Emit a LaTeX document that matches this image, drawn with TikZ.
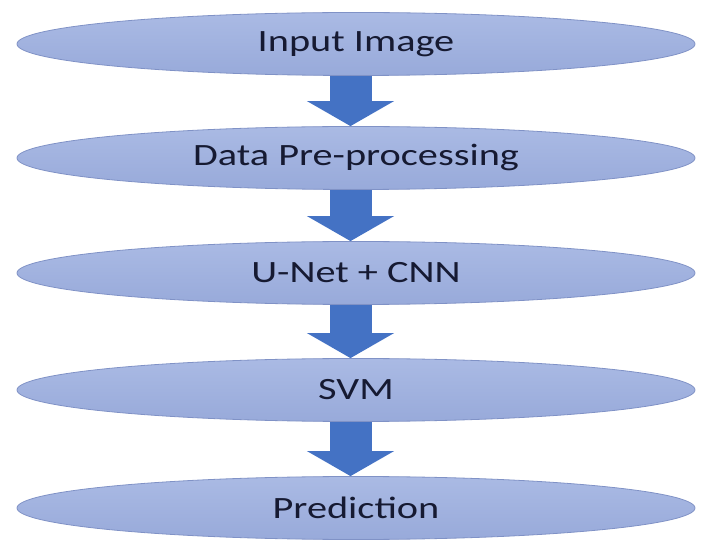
\documentclass[tikz,border=0pt]{standalone}
\usepackage{fontspec}
\setmainfont{Carlito}
\usetikzlibrary{shapes.geometric,arrows.meta}
\definecolor{elltop}{RGB}{170,186,228}
\definecolor{ellbot}{RGB}{152,170,218}
\definecolor{elldraw}{RGB}{128,146,198}
\definecolor{arrblue}{RGB}{68,114,196}
\definecolor{txt}{RGB}{22,26,50}
\newcommand{\widetxt}[1]{\scalebox{1.3}[1]{#1}}
\tikzset{
  stage/.style={ellipse, minimum width=678pt, minimum height=63pt, inner sep=0pt,
    top color=elltop, bottom color=ellbot, draw=elldraw, line width=0.8pt,
    text=txt, font=\fontsize{31}{34}\selectfont},
  flow/.style={draw=arrblue, line width=42pt,
    -{Triangle[width=86pt,length=25pt]}, fill=arrblue}
}
\begin{document}
\begin{tikzpicture}[x=1pt,y=-1pt]
\useasboundingbox (0,0) rectangle (702,545);
\node[stage] (e1) at (356,44) {\widetxt{Input Image}};
\node[stage] (e2) at (356,158) {\widetxt{Data Pre-processing}};
\node[stage] (e3) at (356,273) {\widetxt{U-Net + CNN}};
\node[stage] (e4) at (356,390) {\widetxt{SVM}};
\node[stage] (e5) at (356,508) {\widetxt{Prediction}};
\foreach \a/\b in {e1/e2,e2/e3,e3/e4,e4/e5}{
  \draw[flow] ([xshift=-5.5pt]\a.south) -- ([xshift=-5.5pt]\b.north);
}
\end{tikzpicture}
\end{document}
